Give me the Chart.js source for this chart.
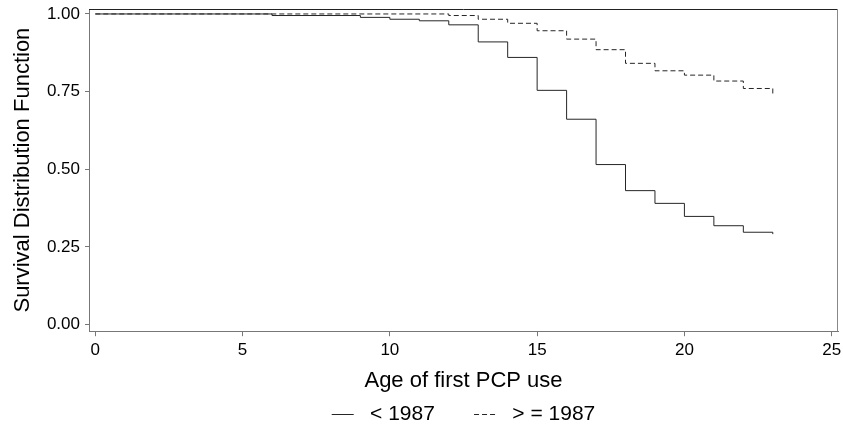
<!DOCTYPE html>
<html>
<head>
<meta charset="utf-8">
<script src="https://cdn.jsdelivr.net/npm/chart.js@4.4.1/dist/chart.umd.min.js"></script>
<style>
  html, body { margin: 0; padding: 0; background: #fff; overflow: hidden; }
  #wrap { width: 843px; height: 427px; }
</style>
</head>
<body>
<div id="wrap"><canvas id="survChart"></canvas></div>
<script>
const seriesNames = ['< 1987', '> = 1987'];
// age where the curve steps down, and the survival value from that age on
const before87Ages = [0, 6, 9, 10, 11, 12, 13, 14, 15, 16, 17, 18, 19, 20, 21, 22, 23];
const before87Surv = [1.0, 0.995, 0.989, 0.983, 0.978, 0.965, 0.910, 0.860, 0.754, 0.661, 0.515, 0.431, 0.390, 0.348, 0.318, 0.297, 0.291];
const after87Ages = [0, 12, 13, 14, 15, 16, 17, 18, 19, 20, 21, 22, 23];
const after87Surv = [1.0, 0.995, 0.983, 0.970, 0.946, 0.919, 0.885, 0.841, 0.817, 0.803, 0.784, 0.760, 0.735];
const xTicks = [0, 5, 10, 15, 20, 25];
const yTicks = [0, 0.25, 0.5, 0.75, 1];

Chart.defaults.font.family = "'Liberation Sans', Arial, sans-serif";
Chart.defaults.color = '#000';

const lineColor = '#262626';

// top + right edge of the plot box
const frameBox = {
    id: 'frameBox',
    afterDraw(chart) {
        const { ctx, chartArea: a } = chart;
        ctx.save();
        ctx.lineWidth = 1;
        ctx.strokeStyle = '#222';
        ctx.beginPath();
        ctx.moveTo(a.left, a.top + 0.5);
        ctx.lineTo(a.right, a.top + 0.5);
        ctx.stroke();
        ctx.strokeStyle = '#888';
        ctx.beginPath();
        ctx.moveTo(a.right - 0.5, a.top);
        ctx.lineTo(a.right - 0.5, a.bottom);
        ctx.stroke();
        ctx.restore();
    }
};

function toPoints(ages, surv) {
    return ages.map((a, i) => ({ x: a, y: surv[i] }));
}

const ctx = document.getElementById('survChart').getContext('2d');
new Chart(ctx, {
    type: 'line',
    data: {
        datasets: [{
            label: seriesNames[0],
            data: toPoints(before87Ages, before87Surv),
            borderColor: lineColor,
            backgroundColor: lineColor,
            borderWidth: 1,
            stepped: 'before',
            pointRadius: 0
        }, {
            label: seriesNames[1],
            data: toPoints(after87Ages, after87Surv),
            borderColor: lineColor,
            backgroundColor: lineColor,
            borderWidth: 1,
            borderDash: [5, 3],
            stepped: 'before',
            pointRadius: 0
        }]
    },
    options: {
        responsive: true,
        maintainAspectRatio: false,
        animation: false,
        layout: { padding: { left: 0, right: 5, top: 9, bottom: -8 } },
        scales: {
            x: {
                type: 'linear',
                min: -0.214,
                max: 25.214,
                afterBuildTicks: s => { s.ticks = xTicks.map(v => ({ value: v })); },
                afterFit: s => { s.paddingLeft = 0; s.paddingRight = 0; },
                ticks: { font: { size: 17 }, padding: 4, maxRotation: 0, autoSkip: false },
                grid: { drawOnChartArea: false, tickLength: 5, color: '#777' },
                border: { color: '#777' },
                title: { display: true, text: 'Age of first PCP use', font: { size: 22 }, padding: { top: 3, bottom: 0 } }
            },
            y: {
                min: -0.0217,
                max: 1.016,
                afterBuildTicks: s => { s.ticks = yTicks.map(v => ({ value: v })); },
                afterFit: s => { s.width = 89; s.paddingTop = 0; s.paddingBottom = 0; },
                ticks: { font: { size: 17 }, padding: 5, callback: v => v.toFixed(2) },
                grid: { drawOnChartArea: false, tickLength: 4, color: '#777' },
                border: { color: '#777' },
                title: { display: true, text: 'Survival Distribution Function', font: { size: 22 }, padding: { top: 10, bottom: 0 } }
            }
        },
        plugins: {
            tooltip: { enabled: false },
            legend: {
                position: 'bottom',
                fullSize: false,
                labels: {
                    usePointStyle: true,
                    pointStyle: 'line',
                    pointStyleWidth: 22,
                    padding: 10,
                    font: { size: 21 },
                    generateLabels(chart) {
                        const items = Chart.defaults.plugins.legend.labels.generateLabels(chart);
                        items.forEach((it, i) => {
                            const ds = chart.data.datasets[i];
                            it.text = ' ' + it.text + (i === 0 ? '     ' : '');
                            it.strokeStyle = ds.borderColor;
                            it.lineWidth = 1;
                            it.lineDash = ds.borderDash || [];
                        });
                        return items;
                    }
                }
            }
        }
    },
    plugins: [frameBox]
});
</script>
</body>
</html>
